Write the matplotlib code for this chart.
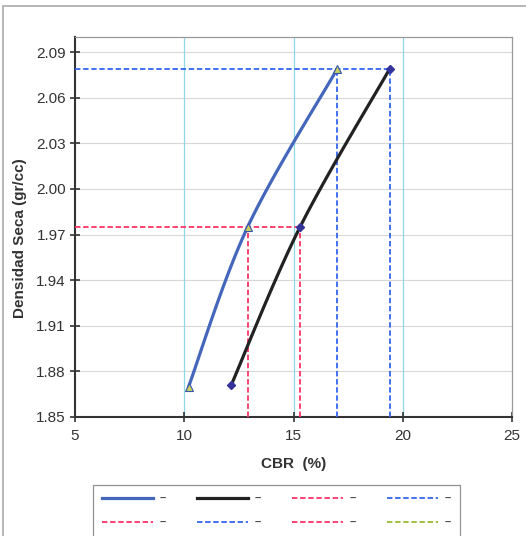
import numpy as np
import matplotlib
matplotlib.use('Agg')
import matplotlib.pyplot as plt
from matplotlib.lines import Line2D
from matplotlib.patches import Rectangle

plt.rcParams['font.family'] = ['Liberation Sans', 'DejaVu Sans']

### data ###
cbr_a = [10.2, 12.9, 17.0]       # blue curve (triangles)
dens_a = [1.870, 1.975, 2.079]
cbr_b = [12.15, 15.3, 19.4]      # black curve (diamonds)
dens_b = [1.871, 1.975, 2.079]

dens_95 = 1.975                  # red guides
dens_max = 2.079                 # blue guides
x_min, x_max = 5, 25
y_min, y_max = 1.85, 2.10
x_ticks = [5, 10, 15, 20, 25]
y_ticks = [1.85, 1.88, 1.91, 1.94, 1.97, 2.00, 2.03, 2.06, 2.09]
vgrid = [10, 15, 20]


def smooth(xs, ys, sx, sy, n=40):
    # excel-like smoothing: catmull-rom, end points repeated, in pixel-like units
    px = np.array(xs) * sx
    py = np.array(ys) * sy
    P = np.column_stack([px, py])
    P = np.vstack([P[0], P, P[-1]])
    out = []
    t = np.linspace(0, 1, n)[:, None]
    for i in range(1, len(P) - 2):
        p0, p1, p2, p3 = P[i - 1], P[i], P[i + 1], P[i + 2]
        seg = 0.5 * ((2 * p1) + (-p0 + p2) * t + (2 * p0 - 5 * p1 + 4 * p2 - p3) * t ** 2
                     + (-p0 + 3 * p1 - 3 * p2 + p3) * t ** 3)
        out.append(seg)
    out = np.vstack(out)
    return out[:, 0] / sx, out[:, 1] / sy


fig = plt.figure(figsize=(5.26, 5.36), dpi=100)
ax = fig.add_axes([75 / 526, 1 - 417 / 536, 437 / 526, 380 / 536])

for g in y_ticks:
    ax.axhline(g, color='#d8d8d8', lw=0.8, zorder=0)
for g in vgrid:
    ax.axvline(g, color='#8fd8e8', lw=0.9, zorder=0)

red = '#ff3366'
blue = '#3366ee'
dash = (0, (3, 1.5))

h1, = ax.plot(*smooth(cbr_a, dens_a, 21.9, 1512), color='#4466bb', lw=2.3, zorder=4)
ax.plot(cbr_a, dens_a, ls='none', marker='^', ms=6, mfc='#ccd060', mec='#3355aa', mew=0.8, zorder=5)
h2, = ax.plot(*smooth(cbr_b, dens_b, 21.9, 1512), color='#222222', lw=2.3, zorder=4)
ax.plot(cbr_b, dens_b, ls='none', marker='D', ms=4, mfc='#333399', mec='#333399', zorder=5)

h3, = ax.plot([x_min, cbr_b[1]], [dens_95, dens_95], color=red, lw=1.3, ls=dash, zorder=3)
h4, = ax.plot([x_min, cbr_b[2]], [dens_max, dens_max], color=blue, lw=1.3, ls=dash, zorder=3)
h5, = ax.plot([cbr_a[1], cbr_a[1]], [y_min, dens_95], color=red, lw=1.3, ls=dash, zorder=3)
h6, = ax.plot([cbr_a[2], cbr_a[2]], [y_min, dens_max], color=blue, lw=1.3, ls=dash, zorder=3)
h7, = ax.plot([cbr_b[1], cbr_b[1]], [y_min, dens_95], color=red, lw=1.3, ls=dash, zorder=3)
ax.plot([cbr_b[2], cbr_b[2]], [y_min, dens_max], color=blue, lw=1.3, ls=dash, zorder=3)
h8 = Line2D([], [], color='#99bb33', lw=1.3, ls=dash)

ax.set_xlim(x_min, x_max)
ax.set_ylim(y_min, y_max)
ax.set_xticks(x_ticks)
ax.set_yticks(y_ticks)
ax.set_yticklabels(['%.2f' % v for v in y_ticks])
ax.tick_params(direction='inout', length=7, width=1.2, color='#333333',
               labelsize=11, labelcolor='#333333')
ax.tick_params(axis='x', pad=5)
ax.tick_params(axis='y', pad=3)
for s in ['left', 'bottom']:
    ax.spines[s].set_color('#333333')
    ax.spines[s].set_linewidth(1.5)
for s in ['top', 'right']:
    ax.spines[s].set_color('#999999')
    ax.spines[s].set_linewidth(0.9)

ax.set_xlabel('CBR  (%)', fontsize=11, fontweight='bold', color='#333333', labelpad=10)
ax.set_ylabel('Densidad Seca (gr/cc)', fontsize=11, fontweight='bold', color='#333333')
ax.yaxis.set_label_coords(-0.11, 0.47)

# excel fills the legend row-wise; matplotlib goes by column
handles = [h1, h5, h2, h6, h3, h7, h4, h8]
leg = fig.legend(handles, ['–'] * 8, ncol=4, loc='upper left',
                 bbox_to_anchor=(93 / 526, 1 - 485 / 536),
                 fontsize=8, handlelength=4.6, handletextpad=0.6, columnspacing=2.8,
                 frameon=True, fancybox=False, edgecolor='#777777', labelcolor='#444444',
                 borderaxespad=0, borderpad=0.8, labelspacing=1.3)
for t in leg.get_texts():
    t.set_fontweight('bold')
leg.get_frame().set_linewidth(0.9)

fig.patches.append(Rectangle((3 / 526, -0.05), 1.1, 1 - 6 / 536 + 0.05, transform=fig.transFigure,
                             fill=False, edgecolor='#aaaaaa', lw=1.2))

fig.savefig('out.png', dpi=100)
